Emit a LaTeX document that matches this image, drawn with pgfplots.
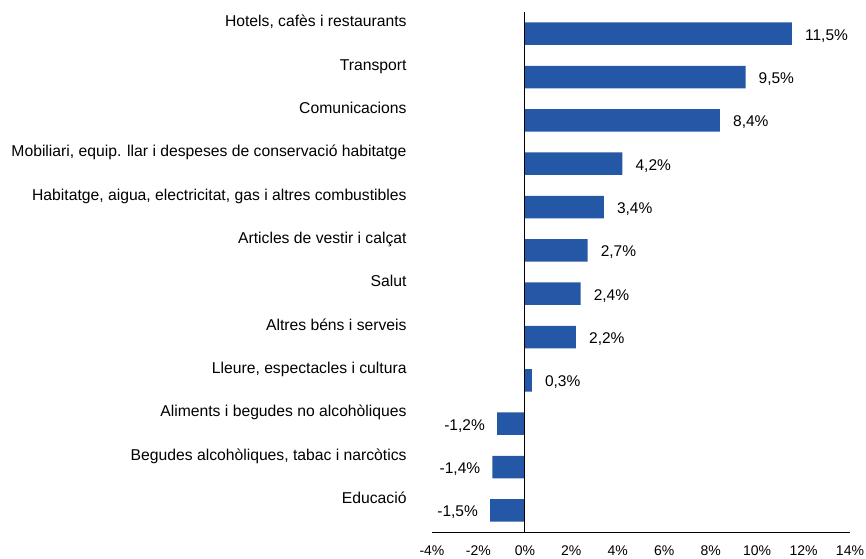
\documentclass[border=0pt]{standalone}
\usepackage{fontspec}
\setmainfont{Liberation Sans}
\usepackage{pgfplots}
\pgfplotsset{compat=1.18}
\definecolor{barblue}{RGB}{36,88,166}
\begin{document}
\begin{tikzpicture}
\useasboundingbox (-432pt,-26pt) rectangle (434pt,532pt);
\begin{axis}[
 at={(0,0)}, anchor=south west,
 scale only axis, width=418pt, height=520pt,
 xmin=-4, xmax=14, ymin=-0.5, ymax=11.5,
 xbar, bar width=22.5pt,
 axis x line*=bottom,
 y axis line style={draw=none},
 xtick={-4,-2,...,14},
 xticklabels={-4\%,-2\%,0\%,2\%,4\%,6\%,8\%,10\%,12\%,14\%},
 xtick style={draw=none}, ytick style={draw=none},
 ytick={0,...,11},
 yticklabels={Educació,{Begudes alcohòliques, tabac i narcòtics},Aliments i begudes no alcohòliques,{Lleure, espectacles i cultura},Altres béns i serveis,Salut,Articles de vestir i calçat,{Habitatge, aigua, electricitat, gas i altres combustibles},{Mobiliari, equip. llar i despeses de conservació habitatge},Comunicacions,Transport,{Hotels, cafès i restaurants}},
 xticklabel style={font=\fontsize{14}{16}\selectfont, anchor=base, yshift=-23pt},
 yticklabel style={font=\fontsize{15.7}{18}\selectfont, anchor=base east, inner xsep=0pt, xshift=-21pt, yshift=6.8pt},
 point meta=explicit symbolic,
 nodes near coords={\pgfplotspointmeta\%},
 axis line style={line width=0.8pt},
]
\addplot[fill=barblue, draw=none, bar shift=0pt,
  every node near coord/.append style={font=\fontsize{15.5}{18}\selectfont, anchor=base west, inner xsep=0pt, xshift=13pt, yshift=-6.5pt, text=black}]
 table[x=v, y=y, meta=l] {
y v l
11 11.5 11,5
10 9.5 9,5
9 8.4 8,4
8 4.2 4,2
7 3.4 3,4
6 2.7 2,7
5 2.4 2,4
4 2.2 2,2
3 0.3 0,3
};
\addplot[fill=barblue, draw=none, bar shift=0pt,
  every node near coord/.append style={font=\fontsize{15.5}{18}\selectfont, anchor=base east, inner xsep=0pt, xshift=-12pt, yshift=-6.5pt, text=black}]
 table[x=v, y=y, meta=l] {
y v l
2 -1.2 -1,2
1 -1.4 -1,4
0 -1.5 -1,5
};
\draw[line width=0.8pt] (axis cs:0,-0.5) -- (axis cs:0,11.5);
\end{axis}
\end{tikzpicture}
\end{document}
